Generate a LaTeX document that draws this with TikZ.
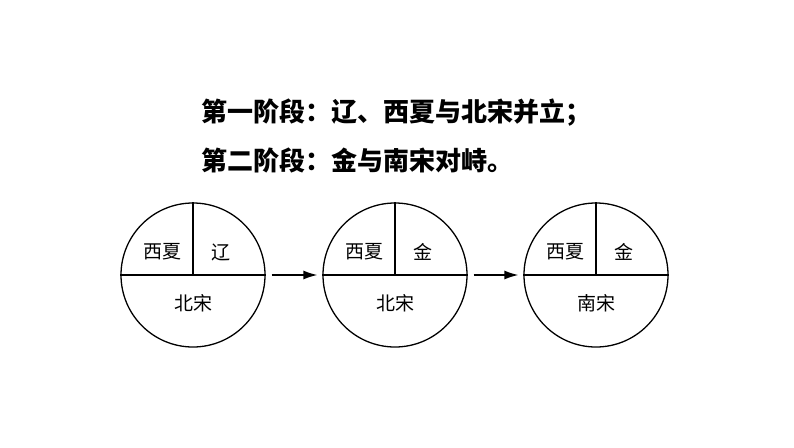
\documentclass[tikz,border=0pt]{standalone}
\usepackage{fontspec}
\setmainfont{Noto Sans CJK SC}
\newfontfamily\cjk{Noto Sans CJK SC}
\usetikzlibrary{arrows.meta}
\begin{document}
\begin{tikzpicture}[x=1pt,y=-1pt,
  era/.style={circle,draw,line width=1.3pt,minimum size=144pt,inner sep=0pt},
  divider/.style={line width=1.3pt},
  lab/.style={font=\cjk\fontsize{19pt}{21pt}\selectfont,inner sep=0pt},
  title/.style={font=\cjk\bfseries\fontsize{26pt}{28pt}\selectfont,anchor=west,inner sep=0pt},
  flow/.style={line width=1.3pt,-{Latex[length=14pt,width=9pt]},shorten <=6pt,shorten >=5pt}]
\useasboundingbox[fill=white] (0,0) rectangle (794,447);
\node[title] (t1) at (201,113) {第一阶段：辽、西夏与北宋并立；};
\node[title] (t2) at (201,160) {第二阶段：金与南宋对峙。};
\node[era] (c1) at (193,275) {};
\node[era] (c2) at (395,275) {};
\node[era] (c3) at (596,275) {};
\foreach \c in {c1,c2,c3}{
  \draw[divider] (\c.west) -- (\c.east);
  \draw[divider] (\c.north) -- (\c.center);
}
\node[lab] (a1) at (162,252) {西夏};
\node[lab] (b1) at (221,252) {辽};
\node[lab] (s1) at (193,303) {北宋};
\node[lab] (a2) at (364,252) {西夏};
\node[lab] (b2) at (423,252) {金};
\node[lab] (s2) at (395,303) {北宋};
\node[lab] (a3) at (565,252) {西夏};
\node[lab] (b3) at (624,252) {金};
\node[lab] (s3) at (596,303) {南宋};
\draw[flow] (c1.east) -- (c2.west);
\draw[flow] (c2.east) -- (c3.west);
\end{tikzpicture}
\end{document}
